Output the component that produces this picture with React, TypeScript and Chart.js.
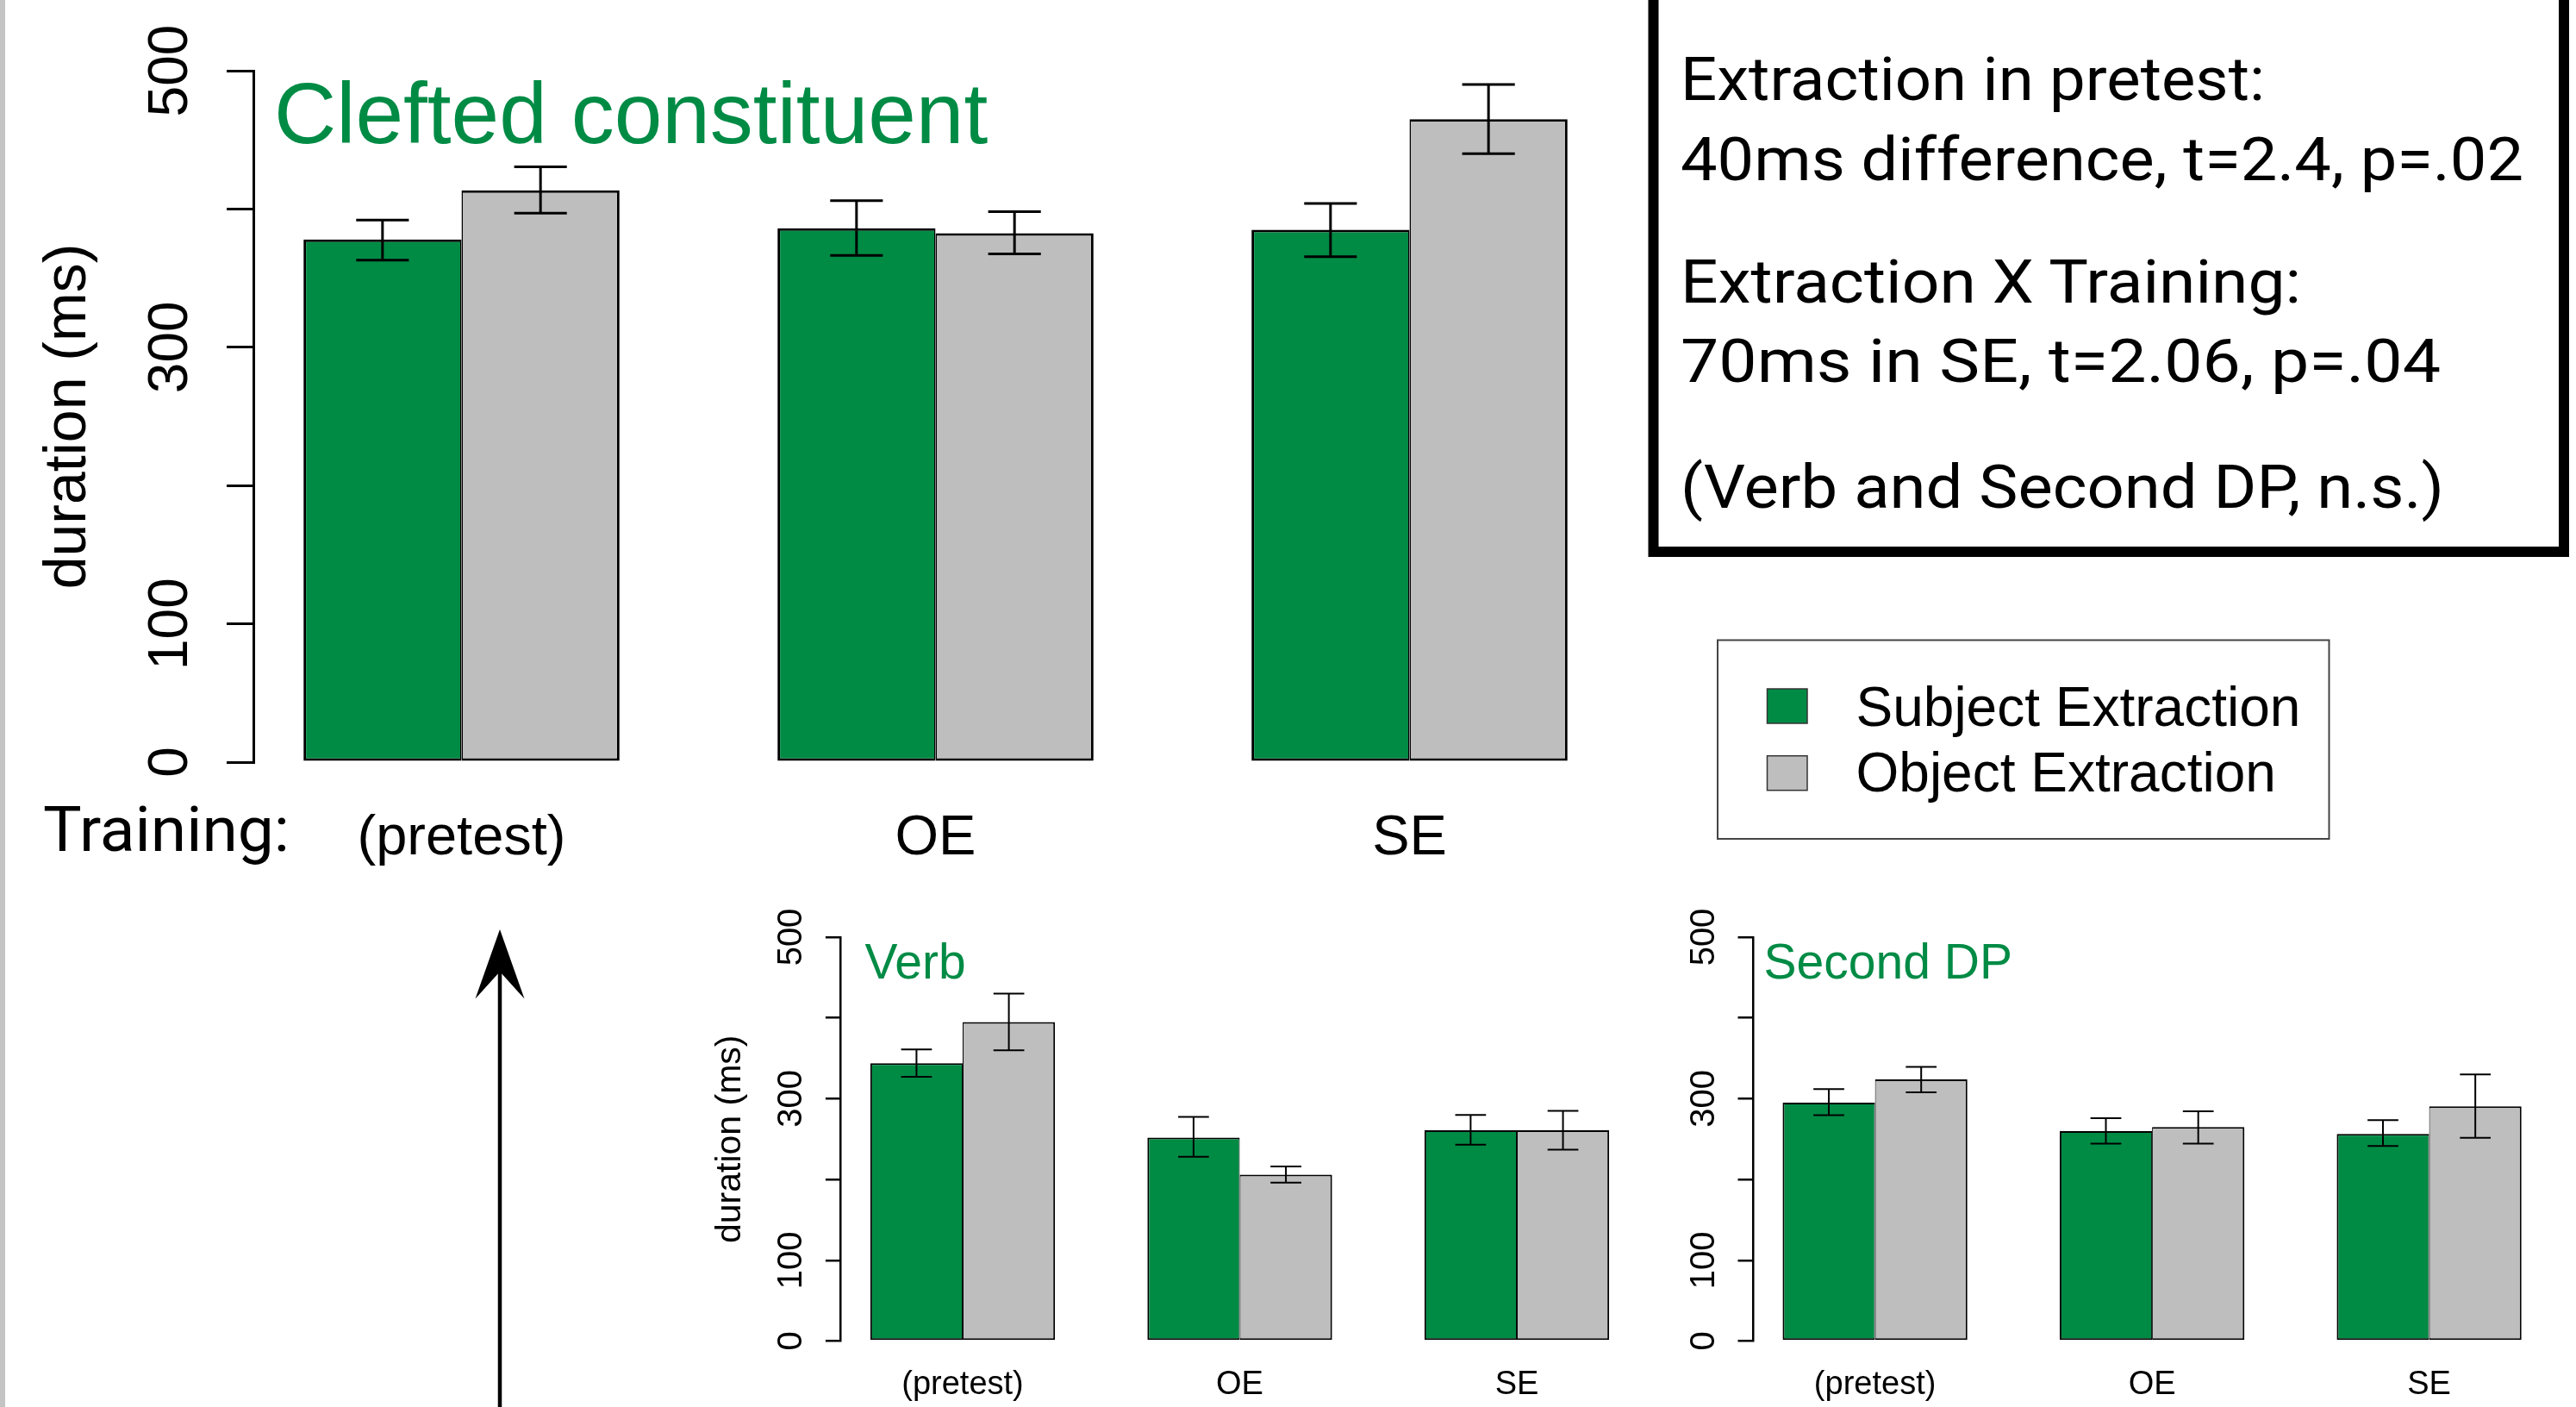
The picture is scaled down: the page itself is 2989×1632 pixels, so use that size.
import React, { useEffect, useRef } from 'react';
import { Chart, registerables } from 'chart.js';

Chart.register(...registerables);
Chart.defaults.font.family = "'Liberation Sans', Arial, Helvetica, sans-serif";

// ---------------- data ----------------
const CATEGORIES = ['(pretest)', 'OE', 'SE'];
const SERIES_LABELS = ['Subject Extraction', 'Object Extraction'];
const SERIES_COLORS = ['#008B45', '#BEBEBE'];
const Y_TICKS = [0, 100, 200, 300, 400, 500];
const Y_TICK_LABELS = ['0', '100', '', '300', '', '500'];
const Y_TITLE = 'duration (ms)';

// Clefted constituent
const CLEFT_SUBJ = [378, 386, 385];
const CLEFT_SUBJ_LO = [363, 366.5, 365.5];
const CLEFT_SUBJ_HI = [392, 406, 404];
const CLEFT_OBJ = [413.5, 382.5, 465];
const CLEFT_OBJ_LO = [397, 367.5, 440];
const CLEFT_OBJ_HI = [430.5, 398, 490];

// Verb
const VERB_SUBJ = [344, 252, 261];
const VERB_SUBJ_LO = [327, 228, 243];
const VERB_SUBJ_HI = [361, 277.5, 280];
const VERB_OBJ = [395, 206, 261];
const VERB_OBJ_LO = [360, 196, 237];
const VERB_OBJ_HI = [430, 216, 285];

// Second DP
const DP_SUBJ = [295, 260, 256.5];
const DP_SUBJ_LO = [279.5, 244.5, 241.5];
const DP_SUBJ_HI = [312, 276, 273.5];
const DP_OBJ = [324, 265, 290.5];
const DP_OBJ_LO = [308, 244.5, 251.5];
const DP_OBJ_HI = [339.5, 284.5, 330];

const STATS_LINES = [
  'Extraction in pretest:',
  '40ms difference, t=2.4, p=.02',
  'Extraction X Training:',
  '70ms in SE, t=2.06, p=.04',
  '(Verb and Second DP, n.s.)',
];
const TRAINING_LABEL = 'Training:';

// ---------------- layout ----------------
const STATS_BASELINES = [116, 209, 351, 443, 589];
const STATS_WIDTHS = [678, 978, 720, 882, 886];

const MAIN_LAYOUT = {
  left: 0, top: 0, w: 1900, h: 1040,
  padTop: 82, padRight: 23, yWidth: 294, xHeight: 156,
  xMin: 0.5609, xMax: 3.4391,
  yFont: 64, tickLen: 31, yPad: 10, axisWidth: 3,
  xFont: 65, xPad: 50.5,
  yTitle: Y_TITLE, yTitleSize: 68, yTitlePad: 39,
  barBorder: 3, errWidth: 3,
  title: 'Clefted constituent', titleSize: 100, titleDx: 24, titleDy: 84,
};
const VERB_LAYOUT = {
  left: 800, top: 1040, w: 1120, h: 592,
  padTop: 47, padRight: 18.4, yWidth: 175.4, xHeight: 76.5,
  xMin: 0.5595, xMax: 3.4405,
  yFont: 40, tickLen: 17.5, yPad: 5.5, axisWidth: 2.5,
  xFont: 38, xPad: 28,
  yTitle: Y_TITLE, yTitleSize: 41, yTitlePad: 22.6,
  barBorder: 2, errWidth: 2,
  title: 'Verb', titleSize: 57, titleDx: 28, titleDy: 48,
};
const DP_LAYOUT = {
  left: 1920, top: 1040, w: 1069, h: 592,
  padTop: 47, padRight: 28.8, yWidth: 114, xHeight: 76.5,
  xMin: 0.5595, xMax: 3.4405,
  yFont: 40, tickLen: 17.5, yPad: 5.5, axisWidth: 2.5,
  xFont: 38, xPad: 28,
  yTitle: '', yTitleSize: 41, yTitlePad: 22.6,
  barBorder: 2, errWidth: 2,
  title: 'Second DP', titleSize: 57, titleDx: 12.6, titleDy: 48,
};

// ---------------- plugins ----------------
const errorBarPlugin = {
  id: 'errorBars',
  afterDatasetsDraw(chart: any, _args: any, opts: any) {
    const ctx = chart.ctx;
    const yScale = chart.scales.y;
    chart.data.datasets.forEach((ds: any, di: number) => {
      const meta = chart.getDatasetMeta(di);
      meta.data.forEach((bar: any, i: number) => {
        const lo = yScale.getPixelForValue(ds.errLo[i]);
        const hi = yScale.getPixelForValue(ds.errHi[i]);
        const half = bar.width / 6;
        ctx.save();
        ctx.strokeStyle = '#000';
        ctx.lineWidth = opts.lineWidth;
        ctx.lineCap = 'butt';
        ctx.beginPath();
        ctx.moveTo(bar.x, lo);
        ctx.lineTo(bar.x, hi);
        ctx.moveTo(bar.x - half, lo);
        ctx.lineTo(bar.x + half, lo);
        ctx.moveTo(bar.x - half, hi);
        ctx.lineTo(bar.x + half, hi);
        ctx.stroke();
        ctx.restore();
      });
    });
  },
};

const panelTitlePlugin = {
  id: 'panelTitle',
  afterDraw(chart: any, _args: any, opts: any) {
    const { ctx, chartArea } = chart;
    ctx.save();
    ctx.fillStyle = opts.color;
    ctx.font = `${opts.size}px 'Liberation Sans', Arial, Helvetica, sans-serif`;
    ctx.textAlign = 'left';
    ctx.textBaseline = 'alphabetic';
    ctx.fillText(opts.text, chartArea.left + opts.dx, chartArea.top + opts.dy);
    ctx.restore();
  },
};

function buildConfig(p: any, subj: number[], subjLo: number[], subjHi: number[], obj: number[], objLo: number[], objHi: number[]): any {
  const b = p.barBorder;
  const ds = (label: string, color: string, vals: number[], lo: number[], hi: number[], first: boolean) => ({
    label,
    data: vals.map((v, i) => ({ x: i + 1, y: v })),
    errLo: lo,
    errHi: hi,
    backgroundColor: color,
    borderColor: '#000',
    borderWidth: first
      ? { top: b, left: b, bottom: b, right: b / 2 }
      : { top: b, left: b / 2, bottom: b, right: b },
    borderSkipped: false,
    barPercentage: 1,
    categoryPercentage: 2 / 3,
  });
  return {
    type: 'bar',
    data: {
      datasets: [
        ds(SERIES_LABELS[0], SERIES_COLORS[0], subj, subjLo, subjHi, true),
        ds(SERIES_LABELS[1], SERIES_COLORS[1], obj, objLo, objHi, false),
      ],
    },
    options: {
      animation: false,
      responsive: false,
      maintainAspectRatio: false,
      events: [],
      layout: { padding: { left: 0, top: p.padTop, right: p.padRight, bottom: 0 } },
      plugins: {
        legend: { display: false },
        tooltip: { enabled: false },
        title: { display: false },
        errorBars: { lineWidth: p.errWidth },
        panelTitle: { text: p.title, size: p.titleSize, dx: p.titleDx, dy: p.titleDy, color: SERIES_COLORS[0] },
      },
      scales: {
        x: {
          type: 'linear',
          min: p.xMin,
          max: p.xMax,
          offset: false,
          grid: { display: false, drawTicks: false, offset: false },
          border: { display: false },
          afterBuildTicks: (s: any) => {
            s.ticks = CATEGORIES.map((_, i) => ({ value: i + 1 }));
          },
          ticks: {
            autoSkip: false,
            maxRotation: 0,
            minRotation: 0,
            padding: p.xPad,
            color: '#000',
            font: { size: p.xFont },
            callback: (v: any) => CATEGORIES[Math.round(Number(v)) - 1] ?? '',
          },
          afterFit: (s: any) => {
            s.height = p.xHeight;
          },
        },
        y: {
          min: 0,
          max: 500,
          afterBuildTicks: (s: any) => {
            s.ticks = Y_TICKS.map((v) => ({ value: v }));
          },
          ticks: {
            autoSkip: false,
            minRotation: 90,
            maxRotation: 90,
            crossAlign: 'center',
            padding: p.yPad,
            color: '#000',
            font: { size: p.yFont },
            callback: (_v: any, i: number) => Y_TICK_LABELS[i] ?? '',
          },
          grid: {
            drawOnChartArea: false,
            drawTicks: true,
            tickLength: p.tickLen,
            color: '#000',
            lineWidth: p.axisWidth,
          },
          border: { display: true, color: '#000', width: p.axisWidth },
          title: {
            display: !!p.yTitle,
            text: p.yTitle,
            color: '#000',
            font: { size: p.yTitleSize },
            padding: { top: p.yTitlePad, bottom: 0 },
          },
          afterFit: (s: any) => {
            s.width = p.yWidth;
          },
        },
      },
    },
    plugins: [errorBarPlugin, panelTitlePlugin],
  };
}

function BarPanel(props: { layout: any; series: number[][] }) {
  const ref = useRef<HTMLCanvasElement>(null);
  const { layout, series } = props;
  useEffect(() => {
    if (!ref.current) return;
    const [s, sl, sh, o, ol, oh] = series;
    const chart = new Chart(ref.current, buildConfig(layout, s, sl, sh, o, ol, oh));
    return () => chart.destroy();
  }, []);
  return (
    <canvas
      ref={ref}
      width={layout.w}
      height={layout.h}
      style={{ position: 'absolute', left: layout.left, top: layout.top }}
    />
  );
}

export default function App() {
  const cm = "Roboto, 'Liberation Sans', sans-serif";
  const arial = "'Liberation Sans', Arial, Helvetica, sans-serif";
  return (
    <div
      style={{
        position: 'absolute',
        left: 0,
        top: 0,
        width: 2989,
        height: 1632,
        overflow: 'hidden',
        background: '#fff',
      }}
    >
      <svg width={2989} height={1632} style={{ position: 'absolute', left: 0, top: 0 }}>
        <rect x={0} y={0} width={6} height={1632} fill="#c4c4c4" />
        {/* statistics box */}
        <rect x={1918.5} y={-30} width={1056.5} height={670} fill="none" stroke="#000" strokeWidth={12} />
        {STATS_LINES.map((t, i) => (
          <text
            key={i}
            x={1950}
            y={STATS_BASELINES[i]}
            fontFamily={cm}
            fontSize={71}
            fill="#000"
            textLength={STATS_WIDTHS[i]}
            lengthAdjust="spacingAndGlyphs"
          >
            {t}
          </text>
        ))}
        <text x={50} y={987} fontFamily={cm} fontSize={73} fill="#000" textLength={286} lengthAdjust="spacingAndGlyphs">
          {TRAINING_LABEL}
        </text>
        {/* legend */}
        <rect x={1993} y={742.5} width={709.5} height={230.5} fill="#fff" stroke="#444" strokeWidth={2} />
        {SERIES_LABELS.map((lab, i) => (
          <g key={lab}>
            <rect x={2050.5} y={799 + i * 77.7} width={46.5} height={40} fill={SERIES_COLORS[i]} stroke="#333" strokeWidth={1.5} />
            <text x={2153.5} y={842 + i * 76} fontFamily={arial} fontSize={64} fill="#000">
              {lab}
            </text>
          </g>
        ))}
        {/* arrow */}
        <line x1={580} y1={1120} x2={580} y2={1640} stroke="#000" strokeWidth={4.5} />
        <polygon points="580,1078 608.5,1158.5 580,1127 551.5,1158.5" fill="#000" />
      </svg>
      <BarPanel
        layout={MAIN_LAYOUT}
        series={[CLEFT_SUBJ, CLEFT_SUBJ_LO, CLEFT_SUBJ_HI, CLEFT_OBJ, CLEFT_OBJ_LO, CLEFT_OBJ_HI]}
      />
      <BarPanel
        layout={VERB_LAYOUT}
        series={[VERB_SUBJ, VERB_SUBJ_LO, VERB_SUBJ_HI, VERB_OBJ, VERB_OBJ_LO, VERB_OBJ_HI]}
      />
      <BarPanel
        layout={DP_LAYOUT}
        series={[DP_SUBJ, DP_SUBJ_LO, DP_SUBJ_HI, DP_OBJ, DP_OBJ_LO, DP_OBJ_HI]}
      />
    </div>
  );
}
